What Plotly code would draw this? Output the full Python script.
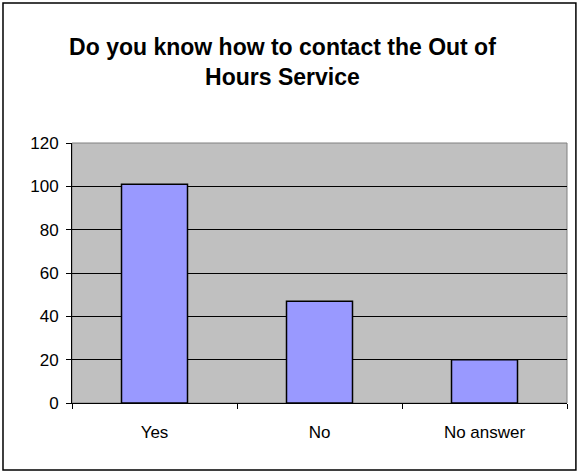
import plotly.graph_objects as go

categories = ['Yes', 'No', 'No answer']
values = [101, 47, 20]
y_ticks = [0, 20, 40, 60, 80, 100, 120]

font = 'Arial, Liberation Sans, sans-serif'

fig = go.Figure()

fig.add_trace(go.Bar(
    x=categories,
    y=values,
    marker={'color': '#9999FF', 'line': {'color': 'black', 'width': 1.5}},
))

# plot area spans x 72..567, y 143..403 px
fig.update_layout(
    width=580, height=474,
    margin={'l': 72, 'r': 13, 't': 143, 'b': 71},
    paper_bgcolor='white',
    plot_bgcolor='#C0C0C0',
    bargap=0.6,
    showlegend=False,
    font={'family': font, 'size': 17, 'color': 'black'},
    title={
        'text': '<b>Do you know how to contact the Out of<br>Hours Service</b>',
        'font': {'family': font, 'size': 23, 'color': 'black'},
        'x': 0.487, 'xref': 'container', 'xanchor': 'center',
        'y': 0.883, 'yref': 'container', 'yanchor': 'top',
    },
    xaxis={
        'showline': True, 'linecolor': 'black', 'linewidth': 1,
        'ticks': 'outside', 'ticklen': 5, 'tickcolor': 'black',
        'tickson': 'boundaries', 'showgrid': False,
        'ticklabelstandoff': 14,
    },
    yaxis={
        'range': [0, 120], 'tickvals': y_ticks,
        'showline': True, 'linecolor': 'black', 'linewidth': 1,
        'ticks': 'outside', 'ticklen': 5, 'tickcolor': 'black',
        'showgrid': True, 'gridcolor': 'black', 'gridwidth': 1,
        'zeroline': False, 'ticklabelstandoff': 4,
    },
)

# gray plot-area border (top / right)
fig.add_shape(type='rect', xref='paper', yref='paper', x0=0, x1=1, y0=0, y1=1,
              line={'color': '#808080', 'width': 1}, layer='below')

# outer chart border
fig.add_shape(type='rect', xref='paper', yref='paper',
              x0=-0.1394, x1=1.018, y0=-0.258, y1=1.538,
              line={'color': 'black', 'width': 1.5})

fig.write_html('out.html', config={'displayModeBar': False},
               post_script="document.body.style.margin='0';")
